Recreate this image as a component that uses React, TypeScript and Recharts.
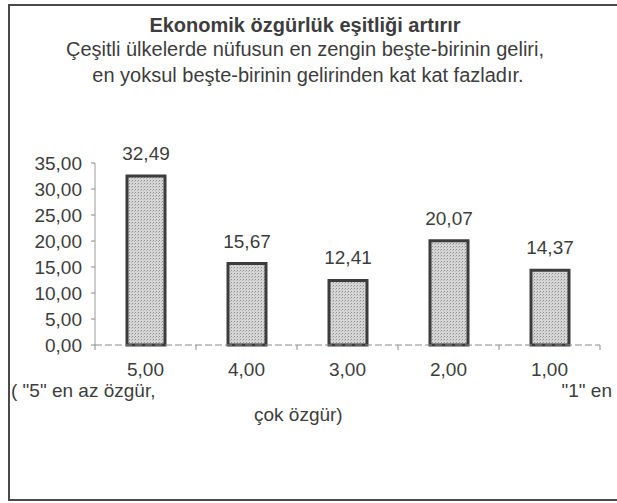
import { BarChart, Bar, XAxis, YAxis, LabelList } from "recharts";

const freedomLevels = ["5,00", "4,00", "3,00", "2,00", "1,00"];
const incomeRatio = [32.49, 15.67, 12.41, 20.07, 14.37];
const yTicks = [0, 5, 10, 15, 20, 25, 30, 35];

const data = freedomLevels.map((level, i) => ({ level, ratio: incomeRatio[i] }));

const FONT = "'Liberation Sans', Arial, Helvetica, sans-serif";
const INK = "#3d3d3d";
const fmt = (v: number) => v.toFixed(2).replace(".", ",");

const TICK_LEN = 5;
const TICK_GAP = 0;

// x ticks sit on the band edges, labels under the bar centres
function CategoryTick(props: any) {
  const { x, y, payload, index, visibleTicksCount, width } = props;
  const half = payload?.offset || width / visibleTicksCount / 2;
  const axisY = y - TICK_LEN - TICK_GAP;
  const last = index === visibleTicksCount - 1;
  return (
    <g>
      <line x1={x - half} x2={x - half} y1={axisY} y2={axisY + TICK_LEN} stroke="#8a8a8a" />
      {last && <line x1={x + half} x2={x + half} y1={axisY} y2={axisY + TICK_LEN} stroke="#8a8a8a" />}
      <text x={x} y={axisY + 31} textAnchor="middle" fill={INK} fontSize={19} fontFamily={FONT}>
        {payload.value}
      </text>
    </g>
  );
}

export default function App() {
  return (
    <div style={{ position: "absolute", left: 0, top: 0, width: 617, height: 503, overflow: "hidden", background: "#fff", fontFamily: FONT, color: INK }}>
      <div style={{ position: "absolute", left: 8, top: 4, width: 700, height: 493, borderTop: "2px solid #4a4a4a", borderLeft: "2px solid #4a4a4a", borderBottom: "2px solid #4a4a4a" }} />

      <div style={{ position: "absolute", left: 0, width: 610, top: 15, textAlign: "center", fontSize: 20, lineHeight: "20px", fontWeight: "bold" }}>
        Ekonomik özgürlük eşitliği artırır
      </div>
      <div style={{ position: "absolute", left: 0, width: 610, top: 39, textAlign: "center", fontSize: 20, lineHeight: "20px" }}>
        Çeşitli ülkelerde nüfusun en zengin beşte-birinin geliri,
      </div>
      <div style={{ position: "absolute", left: 0, width: 616, top: 65, textAlign: "center", fontSize: 20, lineHeight: "20px" }}>
        en yoksul beşte-birinin gelirinden kat kat fazladır.
      </div>

      <div style={{ position: "absolute", left: 0, top: 0 }}>
        <BarChart width={617} height={503} data={data} margin={{ top: 163, right: 17, bottom: 128, left: 5 }}>
          <defs>
            <pattern id="stipple" width="3" height="3" patternUnits="userSpaceOnUse">
              <rect width="3" height="3" fill="#d6d6d6" />
              <rect width="1" height="1" fill="#8f8f8f" />
              <rect x="2" y="1" width="1" height="1" fill="#b5b5b5" />
            </pattern>
          </defs>
          <YAxis
            width={90}
            domain={[0, 35]}
            ticks={yTicks}
            interval={0}
            tickFormatter={fmt}
            tick={{ fill: INK, fontSize: 19, fontFamily: FONT }}
            tickSize={4}
            tickMargin={9}
            tickLine={{ stroke: "#8a8a8a" }}
            axisLine={{ stroke: "#9a9a9a" }}
          />
          <XAxis
            dataKey="level"
            height={30}
            tick={<CategoryTick />}
            tickLine={false}
            tickSize={TICK_LEN}
            tickMargin={TICK_GAP}
            axisLine={{ stroke: "#8a8a8a", strokeDasharray: "7 3" }}
            interval={0}
          />
          <Bar dataKey="ratio" barSize={38} fill="url(#stipple)" stroke="#3c3c3c" strokeWidth={3} isAnimationActive={false}>
            <LabelList dataKey="ratio" position="top" offset={16} formatter={(v: any) => fmt(Number(v))} fill={INK} fontSize={19} fontFamily={FONT} />
          </Bar>
        </BarChart>
      </div>

      <div style={{ position: "absolute", left: 11, top: 381, fontSize: 19, lineHeight: "19px", whiteSpace: "pre" }}>( "5" en az özgür,</div>
      <div style={{ position: "absolute", right: 5, top: 381, fontSize: 19, lineHeight: "19px", whiteSpace: "pre" }}>"1" en</div>
      <div style={{ position: "absolute", left: 254, top: 405, fontSize: 19, lineHeight: "19px", whiteSpace: "pre" }}>çok özgür)</div>
    </div>
  );
}
